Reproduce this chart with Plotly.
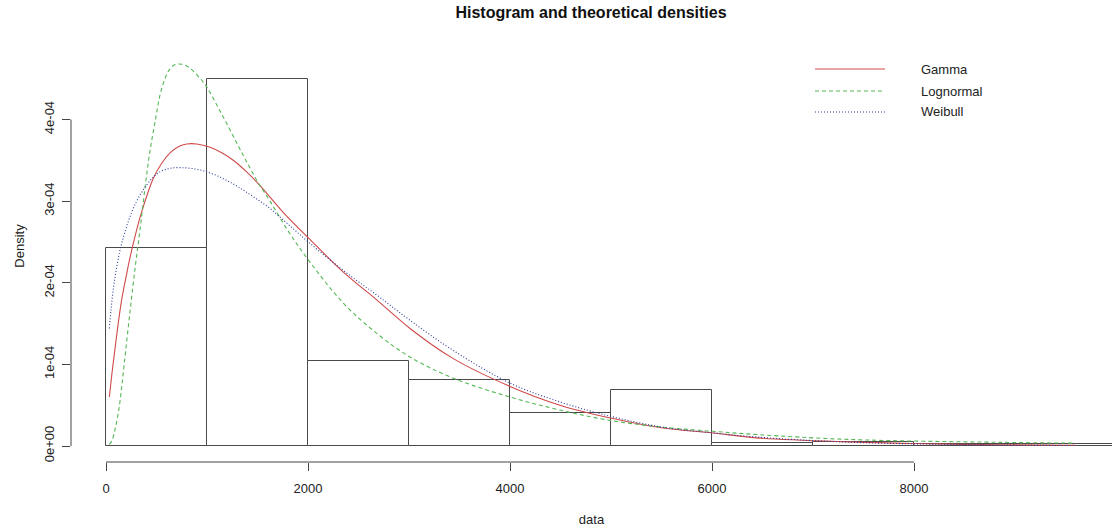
import plotly.graph_objects as go

# ---- data ----
bin_left = [0, 1000, 2000, 3000, 4000, 5000, 6000, 7000, 8000, 9000]
bin_density = [2.42e-4, 4.49e-4, 1.04e-4, 0.805e-4, 0.40e-4, 0.68e-4,
               0.035e-4, 0.045e-4, 0.025e-4, 0.025e-4]

gamma_x = [33, 60, 89, 120, 155, 200, 238, 290, 337, 400, 469, 550, 634, 720,
           799, 898, 1030, 1150, 1260, 1390, 1525, 1756, 2003, 2350, 2680,
           3010, 3439, 4000, 4495, 5007, 5515, 6010, 6443, 7366, 8000, 8851, 9594]
gamma_y = [0.60, 0.90, 1.19, 1.49, 1.79, 2.08, 2.31, 2.58, 2.80, 3.05, 3.28,
           3.46, 3.59, 3.67, 3.70, 3.70, 3.66, 3.59, 3.50, 3.36, 3.19, 2.86,
           2.55, 2.13, 1.79, 1.44, 1.07, 0.73, 0.50, 0.34, 0.22, 0.16, 0.10,
           0.05, 0.03, 0.015, 0.01]

lnorm_x = [33, 60, 89, 115, 139, 180, 238, 290, 337, 390, 436, 490, 535, 590,
           634, 680, 733, 790, 848, 920, 997, 1100, 1195, 1300, 1393, 1500,
           1624, 1800, 2003, 2350, 2680, 3010, 3439, 4000, 4495, 5007, 5515,
           6010, 6443, 7366, 8851, 9594]
lnorm_y = [0.02, 0.07, 0.2, 0.36, 0.55, 1.0, 1.65, 2.2, 2.65, 3.2, 3.62, 4.0,
           4.30, 4.52, 4.62, 4.67, 4.68, 4.66, 4.61, 4.52, 4.40, 4.17, 3.95,
           3.70, 3.48, 3.24, 3.00, 2.64, 2.28, 1.75, 1.38, 1.09, 0.83, 0.60,
           0.44, 0.31, 0.23, 0.18, 0.14, 0.08, 0.045, 0.035]

weib_x = [33, 50, 72, 100, 139, 180, 238, 300, 370, 450, 535, 630, 733, 898,
          1062, 1200, 1327, 1475, 1624, 1800, 2003, 2350, 2680, 3010, 3439,
          4000, 4495, 5007, 5515, 6010, 6443, 7366, 8851, 9594]
weib_y = [1.44, 1.67, 1.92, 2.15, 2.40, 2.59, 2.81, 2.99, 3.14, 3.27, 3.36,
          3.40, 3.41, 3.39, 3.33, 3.25, 3.16, 3.04, 2.91, 2.72, 2.50, 2.15,
          1.85, 1.54, 1.17, 0.77, 0.54, 0.36, 0.23, 0.16, 0.11, 0.046, 0.012,
          0.006]

x_ticks = [0, 2000, 4000, 6000, 8000]
y_ticks = [0, 1e-4, 2e-4, 3e-4, 4e-4]
y_tick_text = ["0e+00", "1e-04", "2e-04", "3e-04", "4e-04"]

names = ["Gamma", "Lognormal", "Weibull"]
colors = ["#cf4a4a", "#55b855", "#2c3a99"]
dashes = ["solid", "4px,3px", "1px,2px"]

FONT = "Liberation Sans, Arial, sans-serif"

fig = go.Figure()

fig.add_trace(go.Bar(
    x=[b + 500 for b in bin_left], y=bin_density, width=1000,
    marker=dict(color="white", line=dict(color="#4a4a4a", width=1)),
    showlegend=False, hoverinfo="skip"))

for nm, xs, ys, c, d in zip(names, [gamma_x, lnorm_x, weib_x],
                            [gamma_y, lnorm_y, weib_y], colors, dashes):
    fig.add_trace(go.Scatter(
        x=xs, y=[v * 1e-4 for v in ys], mode="lines", name=nm,
        line=dict(color=c, width=1.1, dash=d, shape="spline", smoothing=1.0),
        showlegend=False))

W, H = 1112, 530
ML, MR, MT, MB = 71, 0, 30, 68

def px_x(p):
    return (p - ML) / (W - ML - MR)

def px_y(p):
    return (H - MB - p) / (H - MT - MB)

# axis lines (R style: span first to last tick)
axis_col = "#444444"
fig.add_shape(type="line", xref="x", yref="paper", x0=x_ticks[0], x1=x_ticks[-1],
              y0=0, y1=0, line=dict(color=axis_col, width=1))
fig.add_shape(type="line", xref="paper", yref="y", x0=0, x1=0,
              y0=y_ticks[0], y1=y_ticks[-1], line=dict(color=axis_col, width=1))

# manual legend (R style, no box)
leg_y = [69, 91, 112]
for nm, c, d, py in zip(names, colors, dashes, leg_y):
    fig.add_shape(type="line", xref="paper", yref="paper",
                  x0=px_x(815), x1=px_x(885), y0=px_y(py), y1=px_y(py),
                  line=dict(color=c, width=1.1, dash=d))
    fig.add_annotation(xref="paper", yref="paper", x=px_x(919), y=px_y(py),
                       text=nm, showarrow=False, xanchor="left", yanchor="middle",
                       font=dict(family=FONT, size=13, color="#222"))

fig.update_layout(
    width=W, height=H,
    margin=dict(l=ML, r=MR, t=MT, b=MB),
    paper_bgcolor="white", plot_bgcolor="white",
    bargap=0,
    font=dict(family=FONT, size=13, color="#222"),
    title=dict(text="<b>Histogram and theoretical densities</b>",
               x=px_x(591), xref="paper", xanchor="center",
               y=1 - 12 / H, yanchor="middle",
               font=dict(family=FONT, size=16, color="#111")),
    xaxis=dict(range=[-346.5, 9960], showgrid=False, zeroline=False,
               showline=False, tickmode="array", tickvals=x_ticks,
               ticktext=[str(v) for v in x_ticks],
               ticks="outside", ticklen=8, tickcolor=axis_col, tickwidth=1,
               ticklabelstandoff=6,
               title=dict(text="data", standoff=20,
                          font=dict(family=FONT, size=13))),
    yaxis=dict(range=[-0.196e-4, 5.096e-4], showgrid=False, zeroline=False,
               showline=False, tickmode="array", tickvals=y_ticks,
               ticktext=y_tick_text, tickangle=-90,
               ticks="outside", ticklen=8, tickcolor=axis_col, tickwidth=1,
               ticklabelstandoff=3,
               title=dict(text="Density", standoff=14,
                          font=dict(family=FONT, size=13))),
)

fig.write_html("out.html")
